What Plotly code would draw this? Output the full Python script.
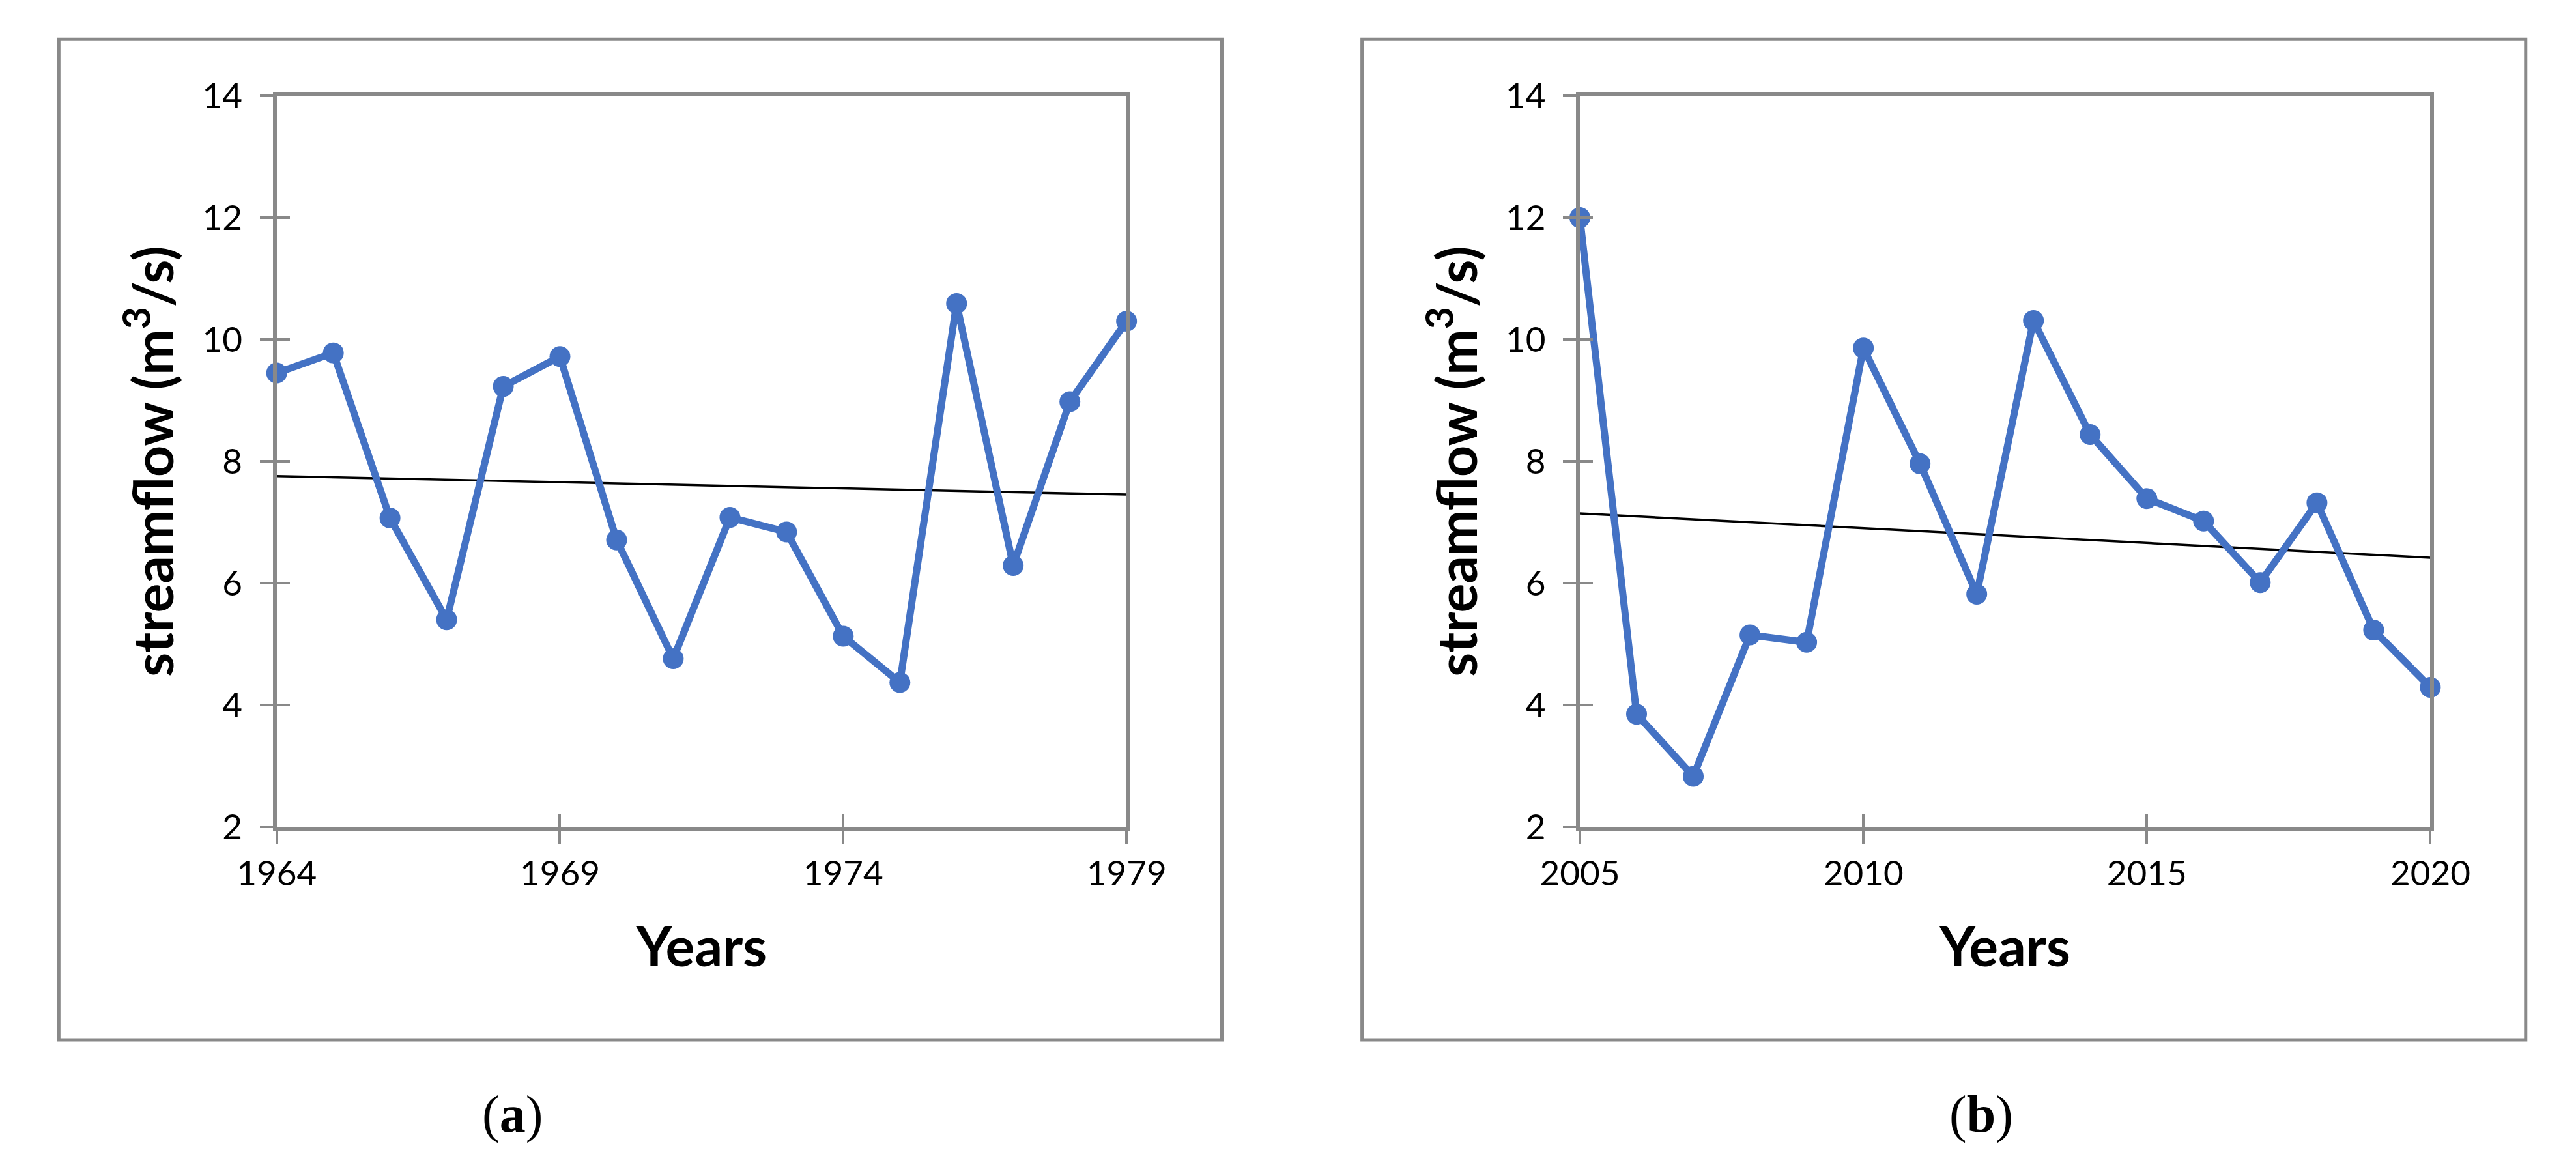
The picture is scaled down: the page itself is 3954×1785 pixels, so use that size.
import numpy as np
import plotly.graph_objects as go

# ---------------- data ----------------
years_a = list(range(1964, 1980))
flow_a = [9.45, 9.78, 7.07, 5.40, 9.23, 9.72, 6.71, 4.76, 7.08, 6.84, 5.13, 4.37, 10.59, 6.29, 8.98, 10.30]
years_b = list(range(2005, 2021))
flow_b = [12.00, 3.85, 2.83, 5.15, 5.03, 9.86, 7.96, 5.82, 10.31, 8.44, 7.39, 7.02, 6.01, 7.32, 5.23, 4.29]
y_ticks = [2, 4, 6, 8, 10, 12, 14]
x_ticks_a = [1964, 1969, 1974, 1979]
x_ticks_b = [2005, 2010, 2015, 2020]
panel_labels = ["a", "b"]
x_title = "Years"
y_title = "streamflow (m<sup>3</sup>/s)"

# ---------------- layout helpers ----------------
W, H = 3954, 1785
def px(x):
    return x / W
def py(y):
    return 1 - y / H

GRAY = "#898989"
BLUE = "#4472C4"
FONT = "Lato"

def trend(xs, ys):
    k, b = np.polyfit(xs, ys, 1)
    return [xs[0], xs[-1]], [k * xs[0] + b, k * xs[-1] + b]

fig = go.Figure()

for i, (xs, ys) in enumerate([(years_a, flow_a), (years_b, flow_b)]):
    xa = "x" if i == 0 else "x2"
    ya = "y" if i == 0 else "y2"
    tx, ty = trend(xs, ys)
    fig.add_trace(go.Scatter(x=tx, y=ty, mode="lines", xaxis=xa, yaxis=ya,
                             line=dict(color="black", width=3.5), showlegend=False,
                             cliponaxis=False, hoverinfo="skip"))
    fig.add_trace(go.Scatter(x=xs, y=ys, mode="lines+markers", xaxis=xa, yaxis=ya,
                             line=dict(color=BLUE, width=11),
                             marker=dict(color=BLUE, size=32),
                             showlegend=False, cliponaxis=False))

# empty traces so the overlay (inside-tick) axes are drawn
for xa, ya in [("x3", "y"), ("x", "y3"), ("x4", "y2"), ("x2", "y4")]:
    fig.add_trace(go.Scatter(x=[], y=[], xaxis=xa, yaxis=ya, showlegend=False))

ydom = [py(1273), py(110)]
doms = [[px(367), px(1713)], [px(2431), px(3778)]]
xranges = [[years_a[0], years_a[-1]], [years_b[0], years_b[-1]]]
xticks = [x_ticks_a, x_ticks_b]

common_x = dict(showgrid=False, zeroline=False, showline=True, linecolor=GRAY, linewidth=6,
                mirror=True, ticks="outside", ticklen=20, tickwidth=4, tickcolor=GRAY,
                tickfont=dict(family=FONT, size=53, color="black"),
                title=dict(text=x_title, font=dict(family=FONT, size=84, color="black", weight="bold"),
                           standoff=58))
common_y = dict(showgrid=False, zeroline=False, showline=True, linecolor=GRAY, linewidth=6,
                mirror=True, ticks="outside", ticklen=20, tickwidth=4, tickcolor=GRAY,
                range=[2, 14], tickvals=y_ticks, ticktext=[str(v) for v in y_ticks],
                ticklabelstandoff=16,
                tickfont=dict(family=FONT, size=53, color="black"),
                title=dict(text=y_title, font=dict(family=FONT, size=84, color="black", weight="bold"),
                           standoff=18))
inner = dict(showgrid=False, zeroline=False, showline=False, ticks="inside", ticklen=20,
             tickwidth=4, tickcolor=GRAY, showticklabels=False, title=dict(text=""))

layout = dict(
    width=W, height=H, margin=dict(l=0, r=0, t=0, b=0),
    paper_bgcolor="white", plot_bgcolor="white", showlegend=False,
    xaxis=dict(common_x, domain=doms[0], anchor="y", range=xranges[0],
               tickvals=xticks[0], ticktext=[str(v) for v in xticks[0]]),
    yaxis=dict(common_y, domain=ydom, anchor="x"),
    xaxis2=dict(common_x, domain=doms[1], anchor="y2", range=xranges[1],
                tickvals=xticks[1], ticktext=[str(v) for v in xticks[1]]),
    yaxis2=dict(common_y, domain=ydom, anchor="x2"),
    xaxis3=dict(inner, overlaying="x", anchor="y", side="bottom", range=xranges[0], tickvals=xticks[0]),
    yaxis3=dict(inner, overlaying="y", anchor="x", side="left", range=[2, 14], tickvals=y_ticks),
    xaxis4=dict(inner, overlaying="x2", anchor="y2", side="bottom", range=xranges[1], tickvals=xticks[1]),
    yaxis4=dict(inner, overlaying="y2", anchor="x2", side="left", range=[2, 14], tickvals=y_ticks),
)
fig.update_layout(**layout)

# outer frames of the two panels
for x0, x1 in [(22, 1864), (2086, 3929)]:
    fig.add_shape(type="rect", xref="paper", yref="paper", x0=px(x0), x1=px(x1),
                  y0=py(1612), y1=py(20), line=dict(color=GRAY, width=5), layer="below")

# panel labels
for lab, cx in zip(panel_labels, [740, 3067]):
    fig.add_annotation(xref="paper", yref="paper", x=px(cx), y=py(1731), showarrow=False,
                       text="(<b>" + lab + "</b>)", xanchor="center", yanchor="middle",
                       font=dict(family="Liberation Serif", size=80, color="black"))

fig.write_html("out.html")
